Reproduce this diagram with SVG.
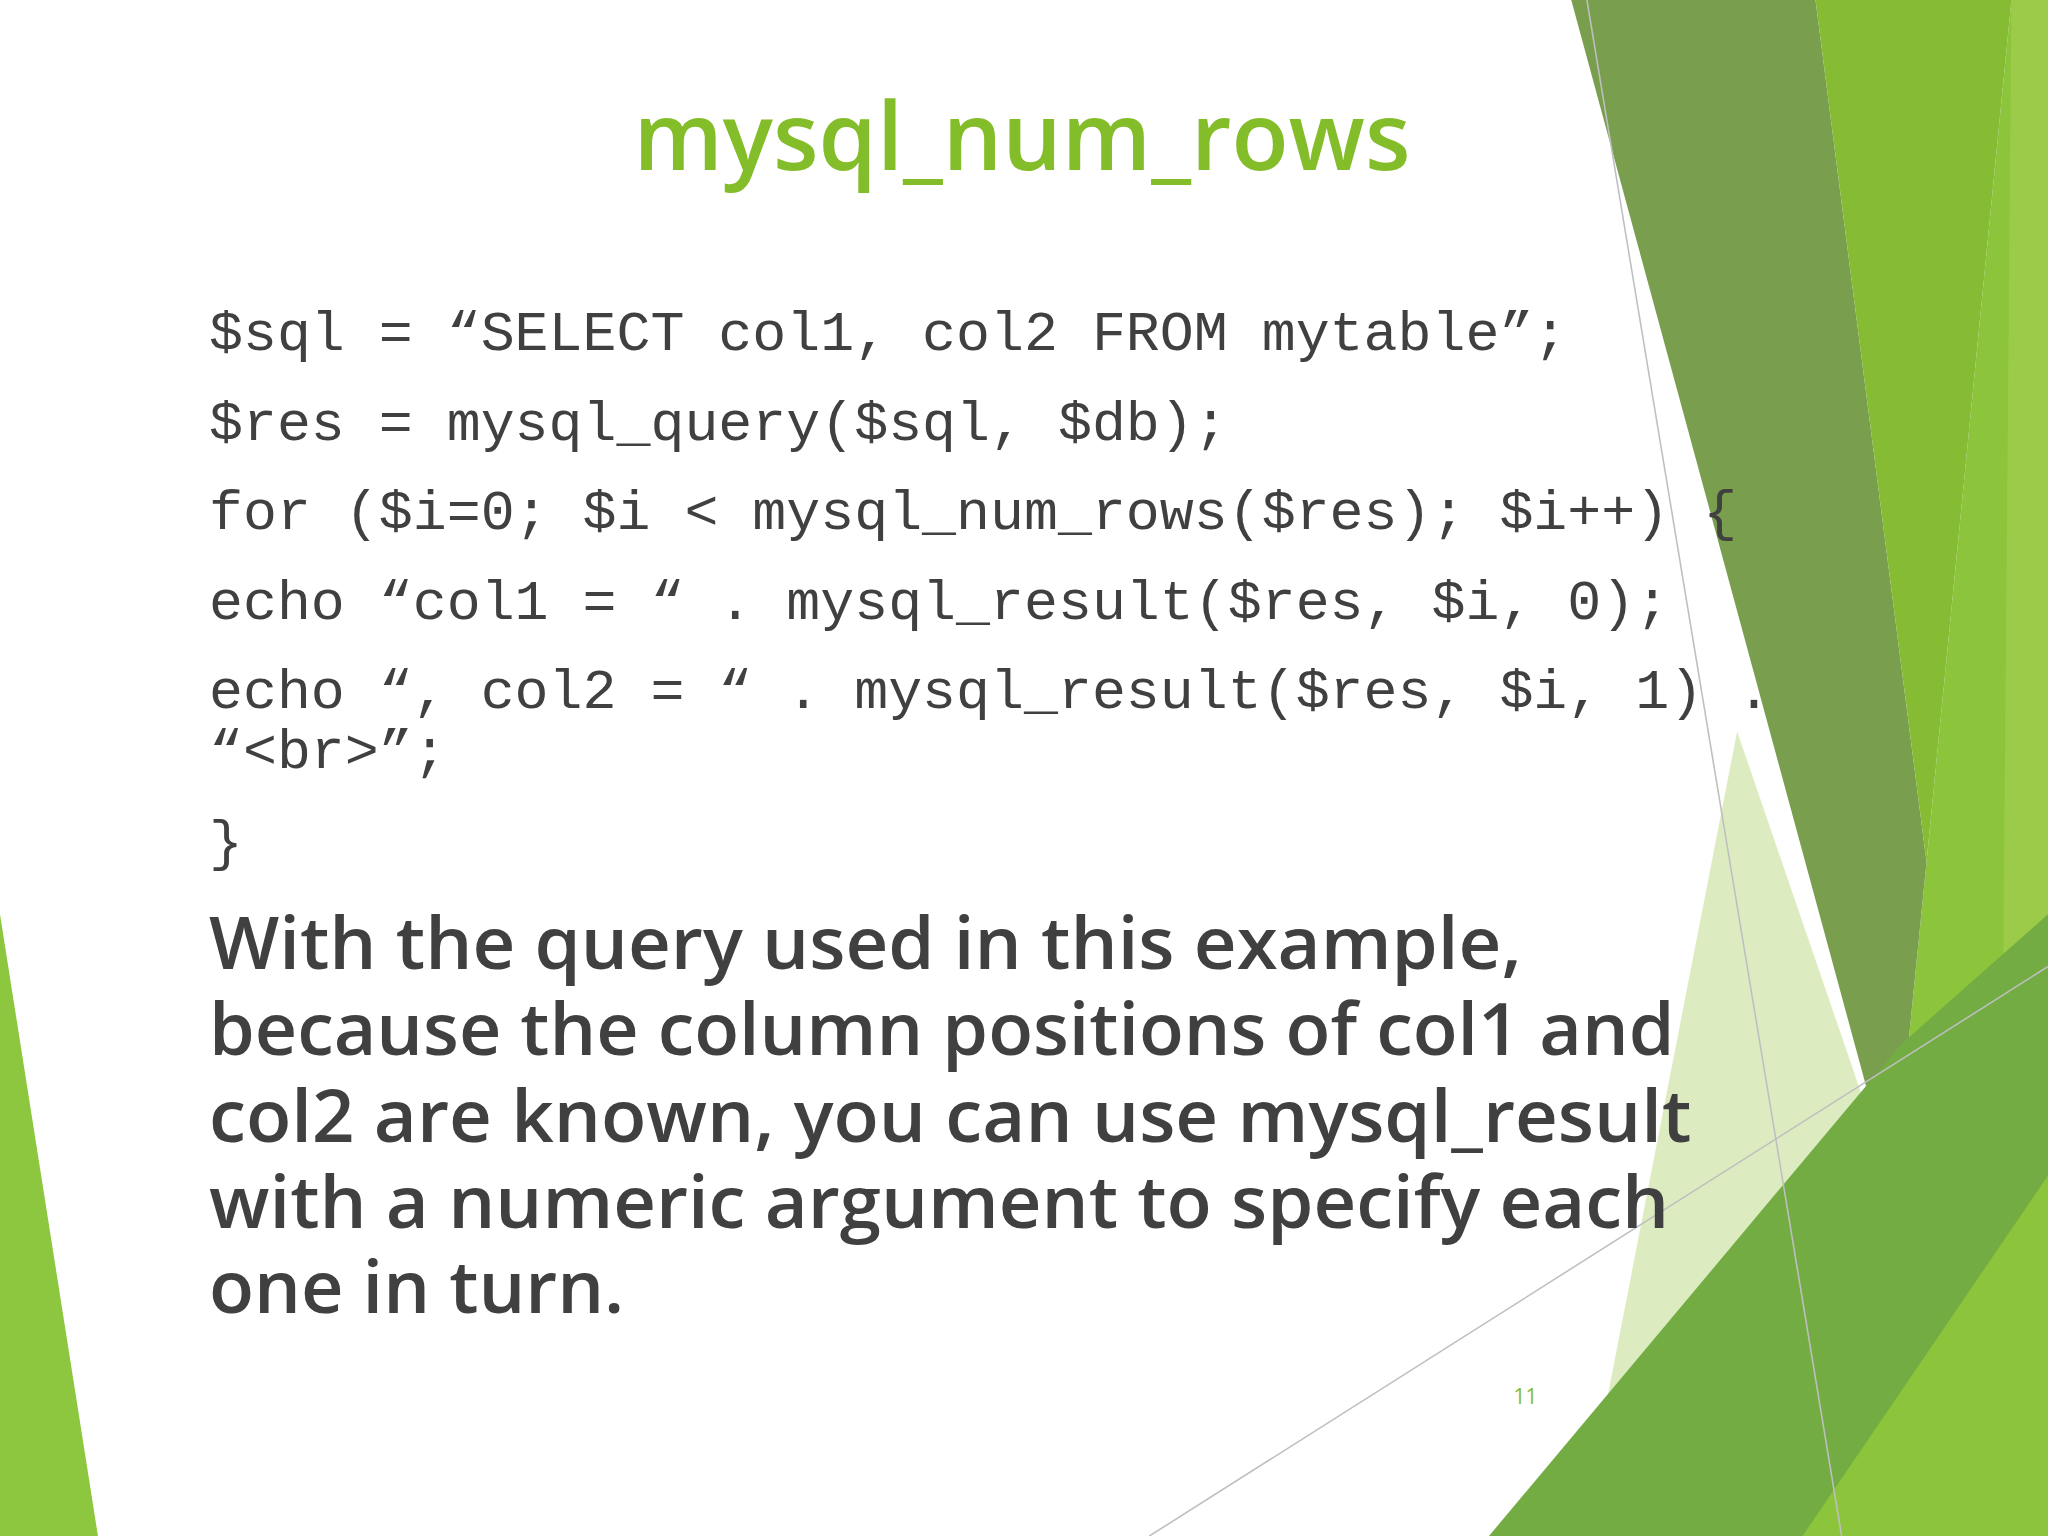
<svg xmlns="http://www.w3.org/2000/svg" width="2048" height="1536" viewBox="0 0 2048 1536">
<style>
.code{font-family:"Liberation Mono",monospace;font-size:43px;fill:#404040}
.body{font-family:"Open Sans","DejaVu Sans",sans-serif;font-size:56px;font-weight:600;fill:#404040}
.ln{stroke:#bfbfbf;stroke-width:1.2;fill:none}
</style>
<rect width="2048" height="1536" fill="#ffffff"/>
<g id="background" transform="scale(1.30612)">
<polygon points="1330,560 1450,910 1380,1176 1210,1176" fill="#dcecc0"/>
<polygon points="1475,660 1540,0 1568,0 1568,1176 1380,1176 1450,910" fill="#8cc43c"/>
<polygon points="1540,0 1568,0 1568,1176 1530,1176" fill="#9ccb4a"/>
<polygon points="1203,0 1390,0 1475,660 1450,910" fill="#789e4e"/>
<polygon points="1390,0 1540,0 1475,660" fill="#86bb34"/>
<polygon points="1140,1176 1455,800 1568,700 1568,1176" fill="#72ac42"/>
<polygon points="1380,1176 1568,900 1568,1176" fill="#8cc43c"/>
<polygon points="0,700 75,1176 0,1176" fill="#8dc63f"/>
<line class="ln" x1="1215" y1="0" x2="1410" y2="1176"/>
<line class="ln" x1="880" y1="1176" x2="1568" y2="740"/>
</g>
<g id="content" transform="scale(1.30612)">
<text id="title" x="485" y="130" textLength="595" lengthAdjust="spacingAndGlyphs" style="font-family:'Open Sans','DejaVu Sans',sans-serif;font-size:72px;font-weight:600;fill:#84bd2a">mysql_num_rows</text>
<g id="code">
<text class="code" x="160" y="268" textLength="1040" lengthAdjust="spacingAndGlyphs">$sql = “SELECT col1, col2 FROM mytable”;</text>
<text class="code" x="160" y="337" textLength="780" lengthAdjust="spacingAndGlyphs">$res = mysql_query($sql, $db);</text>
<text class="code" x="160" y="405" textLength="1170" lengthAdjust="spacingAndGlyphs">for ($i=0; $i &lt; mysql_num_rows($res); $i++) {</text>
<text class="code" x="160" y="474" textLength="1118" lengthAdjust="spacingAndGlyphs">echo “col1 = “ . mysql_result($res, $i, 0);</text>
<text class="code" x="160" y="542" textLength="1196" lengthAdjust="spacingAndGlyphs">echo “, col2 = “ . mysql_result($res, $i, 1) .</text>
<text class="code" x="160" y="588" textLength="182" lengthAdjust="spacingAndGlyphs">“&lt;br&gt;”;</text>
<text class="code" x="160" y="658">}</text>
</g>
<g id="body">
<text class="body" x="160" y="742" textLength="1005" lengthAdjust="spacingAndGlyphs">With the query used in this example,</text>
<text class="body" x="160" y="808" textLength="1122" lengthAdjust="spacingAndGlyphs">because the column positions of col1 and</text>
<text class="body" x="160" y="874" textLength="1135" lengthAdjust="spacingAndGlyphs">col2 are known, you can use mysql_result</text>
<text class="body" x="160" y="940" textLength="1118" lengthAdjust="spacingAndGlyphs">with a numeric argument to specify each</text>
<text class="body" x="160" y="1005" textLength="318" lengthAdjust="spacingAndGlyphs">one in turn.</text>
</g>
<text id="page" x="1168" y="1075" text-anchor="middle" style="font-family:'Open Sans',sans-serif;font-size:16px;fill:#84bd2a">11</text>
</g>
</svg>
